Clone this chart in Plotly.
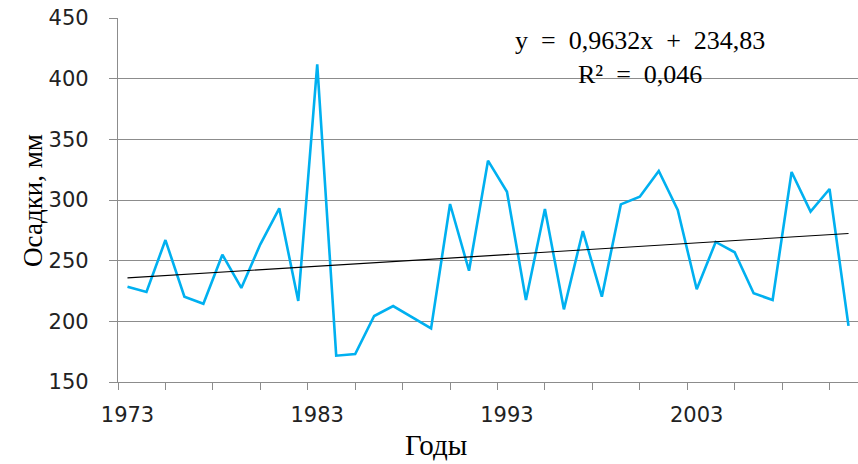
import plotly.graph_objects as go

# Annual precipitation, 1973-2011
years = list(range(1973, 2012))
precip_mm = [
    228.6, 224.2, 267.0, 220.3, 214.5, 254.9, 227.5, 263.5, 293.1, 216.8,
    411.8, 171.7, 173.1, 204.4, 212.6, 203.5, 194.2, 296.7, 241.7, 332.4,
    306.8, 217.6, 292.6, 209.9, 274.4, 220.3, 296.4, 302.7, 323.9, 291.8,
    226.4, 265.4, 256.9, 223.1, 217.6, 323.1, 290.4, 309.1, 196.2,
]

# Linear trend as stated in the equation label (x = 1..n)
slope = 0.9632
intercept = 234.83
r_squared = "0,046"
trend = [slope * (i + 1) + intercept for i in range(len(years))]

label_years = [1973, 1983, 1993, 2003]
y_ticks = [150, 200, 250, 300, 350, 400, 450]

grid_col = "#8c8c8c"
tick_font = dict(family="DejaVu Sans, sans-serif", size=21, color="#222222")
serif = "Liberation Serif, Times New Roman, serif"
sp = "\u2002"  # en space, used around the operators in the equation

fig = go.Figure()
fig.add_trace(go.Scatter(
    x=years, y=precip_mm, mode="lines",
    line=dict(color="#00B0F0", width=2.6),
    xaxis="x", yaxis="y", showlegend=False,
))
fig.add_trace(go.Scatter(
    x=[years[0], years[-1]], y=[trend[0], trend[-1]], mode="lines",
    line=dict(color="#000000", width=1.1),
    xaxis="x2", yaxis="y", showlegend=False,
))

x_range = [years[0] - 0.5, years[-1] + 0.5]

slope_txt = str(slope).replace(".", ",")
icpt_txt = str(intercept).replace(".", ",")

fig.update_layout(
    width=858, height=464,
    margin=dict(l=118, r=0, t=18, b=82),
    paper_bgcolor="white", plot_bgcolor="white",
    xaxis=dict(
        range=x_range, tickmode="linear", tick0=years[0] - 0.5, dtick=2.5,
        ticks="outside", ticklen=7, tickcolor=grid_col, tickwidth=1,
        showticklabels=False, showgrid=False, zeroline=False,
        showline=True, linecolor=grid_col, linewidth=1.2,
    ),
    xaxis2=dict(
        overlaying="x", anchor="y", side="bottom", range=x_range,
        tickmode="array", tickvals=label_years,
        ticktext=[str(v) for v in label_years],
        ticks="", showgrid=False, zeroline=False, showline=False,
        tickfont=tick_font, ticklabelstandoff=18,
    ),
    yaxis=dict(
        range=[150, 450], tickmode="array", tickvals=y_ticks,
        ticks="outside", ticklen=8, tickcolor=grid_col, tickwidth=1,
        showgrid=True, gridcolor=grid_col, gridwidth=1, zeroline=False,
        showline=True, linecolor=grid_col, linewidth=1.2,
        tickfont=tick_font, ticklabelstandoff=16,
    ),
    annotations=[
        dict(text="Годы", xref="paper", yref="paper", x=0.43, y=-0.173,
             xanchor="center", yanchor="middle", showarrow=False,
             font=dict(family=serif, size=29, color="#000000")),
        dict(text="Осадки, мм", xref="paper", yref="paper", x=-0.115, y=0.5,
             xanchor="center", yanchor="middle", textangle=-90, showarrow=False,
             font=dict(family=serif, size=27, color="#000000")),
        dict(text=f"y{sp}={sp}{slope_txt}x{sp}+{sp}{icpt_txt}",
             xref="paper", yref="paper", x=0.706, y=0.937,
             xanchor="center", yanchor="middle", showarrow=False,
             font=dict(family=serif, size=26, color="#000000")),
        dict(text=f"R²{sp}={sp}{r_squared}", xref="paper", yref="paper", x=0.705, y=0.846,
             xanchor="center", yanchor="middle", showarrow=False,
             font=dict(family=serif, size=26, color="#000000")),
    ],
)

fig.write_html("out.html")
